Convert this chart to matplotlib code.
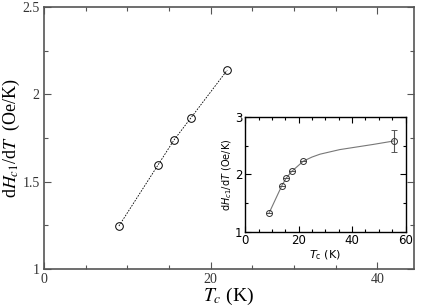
import matplotlib
matplotlib.use("Agg")
import matplotlib.pyplot as plt
from matplotlib.ticker import MultipleLocator

# main panel data
tc_main = [9.0, 13.7, 15.6, 17.65, 22.0]
slope_main = [1.246, 1.596, 1.738, 1.866, 2.139]

# inset data
tc_inset = [9.0, 13.7, 15.3, 17.4, 21.8, 55.6]
slope_inset = [1.33, 1.80, 1.93, 2.05, 2.23, 2.58]
err_inset = [0, 0, 0, 0, 0, 0.2]

# guide curve in the inset
curve_x = [9.0, 13.7, 15.3, 17.4, 21.8, 25.0, 28.0, 35.4, 47.9, 55.6]
curve_y = [1.33, 1.80, 1.93, 2.05, 2.23, 2.30, 2.35, 2.43, 2.52, 2.58]

SERIF = "Liberation Serif"
SANS = "DejaVu Sans"
SPINE = "#555555"

fig = plt.figure(figsize=(4.22, 3.06), dpi=100)
ax = fig.add_axes([0.104, 0.121, 0.877, 0.856])

ax.plot(tc_main, slope_main, color="black", linestyle=(0, (2, 1.5)), linewidth=0.6,
        marker="o", markersize=5.5, markerfacecolor="none",
        markeredgecolor="black", markeredgewidth=0.7)

ax.set_xlim(0, 44.4)
ax.set_ylim(1, 2.5)
ax.xaxis.set_major_locator(MultipleLocator(20))
ax.xaxis.set_minor_locator(MultipleLocator(5))
ax.yaxis.set_minor_locator(MultipleLocator(0.25))
ax.tick_params(which="both", direction="in", top=True, right=True,
               color=SPINE, width=0.8, labelsize=10, pad=3)
ax.tick_params(which="major", length=5)
ax.tick_params(which="minor", length=3)
ax.set_yticks([1, 1.5, 2, 2.5])
ax.set_yticklabels(["1", "1.5", "2", "2.5"])
for lab in ax.get_xticklabels() + ax.get_yticklabels():
    lab.set_fontfamily(SERIF)
    lab.set_color("#333333")
for sp in ax.spines.values():
    sp.set_color(SPINE)
    sp.set_linewidth(1.2)

ax.set_xlabel(r"$T_c$ (K)", fontsize=14, family=SERIF, math_fontfamily="stix",
              labelpad=0)
ax.set_ylabel(r"d$H_{c1}$/d$T$  (Oe/K)", fontsize=13, family=SERIF,
              math_fontfamily="stix", labelpad=0)

# inset
ins = fig.add_axes([0.581, 0.243, 0.380, 0.375])
ins.plot(curve_x, curve_y, color="#777777", linewidth=0.8)
ins.errorbar(tc_inset, slope_inset, yerr=err_inset, fmt="o", markersize=4.3,
             markerfacecolor="none", markeredgecolor="#333333",
             markeredgewidth=0.7, ecolor="#555555", elinewidth=0.8,
             capsize=2.5, capthick=0.8)
ins.set_xlim(0, 60)
ins.set_ylim(1, 3)
ins.xaxis.set_major_locator(MultipleLocator(20))
ins.xaxis.set_minor_locator(MultipleLocator(5))
ins.yaxis.set_major_locator(MultipleLocator(1))
ins.yaxis.set_minor_locator(MultipleLocator(0.5))
ins.tick_params(which="both", direction="in", top=True, right=True,
                labelsize=8.5, pad=2, width=0.8)
ins.tick_params(which="major", length=4)
ins.tick_params(which="minor", length=2)
for sp in ins.spines.values():
    sp.set_linewidth(1.0)
ins.set_xlabel(r"$T_\mathrm{c}$ (K)", fontsize=8, family=SANS,
               math_fontfamily="dejavusans", labelpad=1)
ins.set_ylabel(r"d$H_{c1}$/d$T$ (Oe/K)", fontsize=7, family=SANS,
               math_fontfamily="dejavusans", labelpad=1)

fig.savefig("out.png", dpi=100)
